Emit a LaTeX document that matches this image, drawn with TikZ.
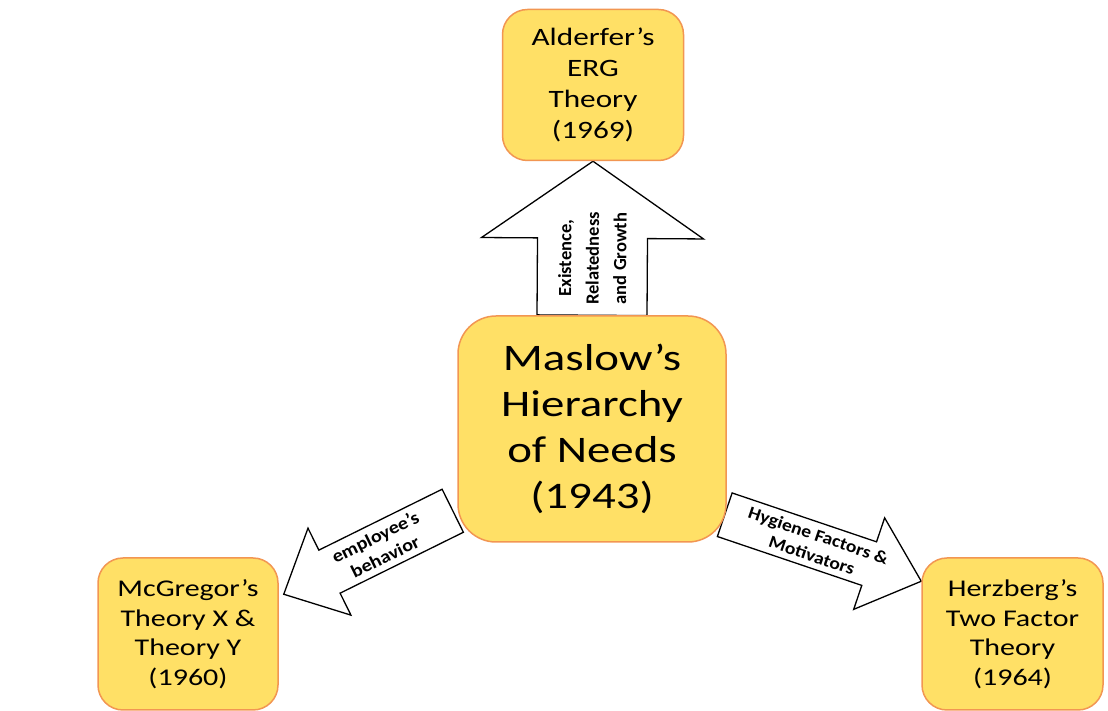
\documentclass[tikz,border=0pt]{standalone}
\usepackage{fontspec}
\setmainfont{Carlito}[FakeStretch=1.25]
\newfontfamily\arrowfont{Carlito}
\newfontfamily\slantfont{Carlito}[FakeStretch=1.12]
\usetikzlibrary{calc, backgrounds}
\definecolor{boxfill}{RGB}{255, 224, 102}
\definecolor{boxedge}{RGB}{242, 150, 82}

% block arrow: tail, tip, half shaft, half head, head length
\newcommand{\fatarrow}[5]{%
  \coordinate (fa-base) at ($(#2)!#5!(#1)$);
  \draw[fatarrow] ($(#1)!#3!90:(#2)$) -- ($(fa-base)!#3!90:(#2)$)
    -- ($(fa-base)!#4!90:(#2)$) -- (#2) -- ($(fa-base)!#4!-90:(#2)$)
    -- ($(fa-base)!#3!-90:(#2)$) -- ($(#1)!#3!-90:(#2)$) -- cycle;}

\begin{document}
\begin{tikzpicture}[x=1pt, y=1pt,
    theory/.style={draw=boxedge, line width=1.5pt, fill=boxfill, rounded corners=25pt,
      align=center, inner sep=0pt},
    fatarrow/.style={draw=black, fill=white, line width=1.3pt, line join=miter},
    arrowlabel/.style={align=center, inner sep=0pt}]
  \useasboundingbox (0,0) rectangle (1108,711);

  \node[theory, rounded corners=38pt, minimum width=268pt, minimum height=226pt,
    font=\fontsize{37.5}{46}\selectfont] (maslow) at (592,282)
    {Maslow’s\\Hierarchy\\of Needs\\(1943)};
  \node[theory, minimum width=181pt, minimum height=151pt,
    font=\fontsize{25}{31}\selectfont] (alderfer) at (593,626)
    {Alderfer’s\\ERG\\Theory\\(1969)};
  \node[theory, minimum width=180pt, minimum height=152pt,
    font=\fontsize{24}{29.5}\selectfont] (mcgregor) at (188,77)
    {McGregor’s\\Theory X \&\\Theory Y\\(1960)};
  \node[theory, minimum width=181pt, minimum height=152pt,
    font=\fontsize{24}{29.5}\selectfont] (herzberg) at (1012.5,77)
    {Herzberg’s\\Two Factor\\Theory\\(1964)};

  % arrow ends
  \coordinate (ergtail) at (maslow.north);
  \coordinate (ergtip) at (alderfer.south);
  \coordinate (xytail) at ($(maslow.south west)+(-4.5,32)$);
  \coordinate (xytip) at ($(mcgregor.north east)+(5,-37)$);
  \coordinate (twotail) at ($(maslow.south east)+(-2,28)$);
  \coordinate (twotip) at ($(herzberg.north west)+(0,-24)$);

  \begin{scope}[on background layer]
    \fatarrow{ergtail}{ergtip}{55pt}{111pt}{77pt}
    \fatarrow{xytail}{xytip}{24pt}{48.5pt}{51pt}
    \fatarrow{twotail}{twotip}{23pt}{48.3pt}{55pt}
  \end{scope}

  \path (ergtail) -- node[arrowlabel, sloped, pos=0.37, font=\arrowfont\bfseries\fontsize{18.5}{27.5}\selectfont] (ergtext)
    {Existence,\\Relatedness\\and Growth} (ergtip);
  \path (xytail) -- node[arrowlabel, sloped, pos=0.43, font=\slantfont\bfseries\fontsize{18}{22}\selectfont] (xytext)
    {employee’s\\behavior} (xytip);
  \path (twotail) -- node[arrowlabel, sloped, pos=0.46, font=\slantfont\bfseries\fontsize{17.5}{21}\selectfont] (twotext)
    {Hygiene Factors \&\\Motivators} (twotip);
\end{tikzpicture}
\end{document}
